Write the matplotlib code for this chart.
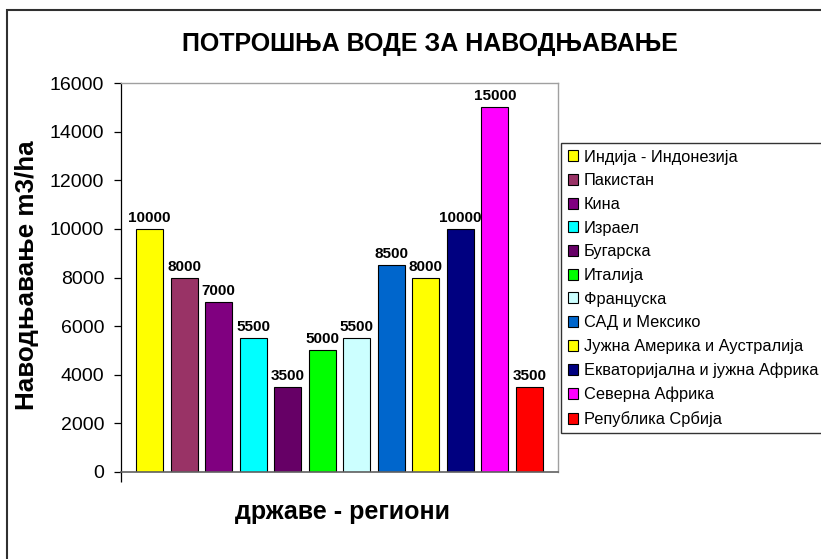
import matplotlib
matplotlib.use("Agg")
import matplotlib.pyplot as plt
from matplotlib.patches import Rectangle

plt.rcParams['font.family'] = ['Liberation Sans', 'DejaVu Sans']

categories = ["Индија - Индонезија", "Пакистан", "Кина", "Израел", "Бугарска",
              "Италија", "Француска", "САД и Мексико", "Јужна Америка и Аустралија",
              "Екваторијална и јужна Африка", "Северна Африка", "Република Србија"]
values = [10000, 8000, 7000, 5500, 3500, 5000, 5500, 8500, 8000, 10000, 15000, 3500]
colors = ["#FFFF00", "#993366", "#800080", "#00FFFF", "#660066", "#00FF00",
          "#CCFFFF", "#0066CC", "#FFFF00", "#000080", "#FF00FF", "#FF0000"]
yticks = [0, 2000, 4000, 6000, 8000, 10000, 12000, 14000, 16000]

W, H = 821, 559
fig = plt.figure(figsize=(W / 100, H / 100), dpi=100)
fig.patch.set_facecolor("white")

# outer chart border (left/top visible, rest cropped)
fig.patches.append(Rectangle((7 / W, -0.2), 1.2, (H - 10) / H + 0.2,
                             transform=fig.transFigure, fill=False,
                             edgecolor="#303030", linewidth=1.5))

ax = fig.add_axes([121 / W, (H - 472) / H, 437 / W, 389 / H])
bw = 0.78
for i, (v, c, lab) in enumerate(zip(values, colors, categories)):
    ax.bar(i, v, width=bw, color=c, edgecolor="black", linewidth=0.8, label=lab, zorder=2)
    ax.annotate(f"{v}", (i, v), xytext=(0, 5), textcoords="offset points",
                ha="center", va="baseline", fontsize=11, fontweight="bold")

xl = (-0.5 - 0.33, len(values) - 0.5 + 0.33)
ax.set_xlim(*xl)
ax.set_ylim(0, 16000)
ax.set_yticks(yticks)
ax.set_yticklabels([str(t) for t in yticks], fontsize=14)
ax.tick_params(axis="y", direction="out", length=5, width=0.9, pad=7, color="black")
ax.set_xticks([xl[0]])
ax.set_xticklabels([""])
ax.tick_params(axis="x", direction="out", length=7, width=0.9, color="black")

ax.spines["left"].set_color("black")
ax.spines["left"].set_linewidth(0.9)
ax.spines["bottom"].set_color("#606060")
ax.spines["bottom"].set_linewidth(1.2)
ax.spines["top"].set_color("#a0a0a0")
ax.spines["right"].set_color("#a0a0a0")
ax.spines["top"].set_linewidth(1.0)
ax.spines["right"].set_linewidth(1.0)

fig.text(430 / W, 1 - 44 / H, "ПОТРОШЊА ВОДЕ ЗА НАВОДЊАВАЊЕ", ha="center", va="center",
         fontsize=18, fontweight="bold")
fig.text(27 / W, 1 - 275 / H, "Наводњавање m3/ha", ha="center", va="center",
         rotation=90, fontsize=18.7, fontweight="bold")
fig.text(342 / W, 1 - 512 / H, "државе - региони", ha="center", va="center",
         fontsize=18, fontweight="bold")

handles, labels = ax.get_legend_handles_labels()
leg = fig.legend(handles, labels, loc="upper left",
                 bbox_to_anchor=(561 / W, 1 - 143 / H), bbox_transform=fig.transFigure,
                 fontsize=11.8, frameon=True, fancybox=False, shadow=False,
                 borderaxespad=0, borderpad=0.4, labelspacing=0.53,
                 handlelength=0.66, handleheight=0.66, handletextpad=0.35)
leg.get_frame().set_edgecolor("black")
leg.get_frame().set_linewidth(1.0)

fig.savefig("out.png", dpi=100, facecolor="white")
